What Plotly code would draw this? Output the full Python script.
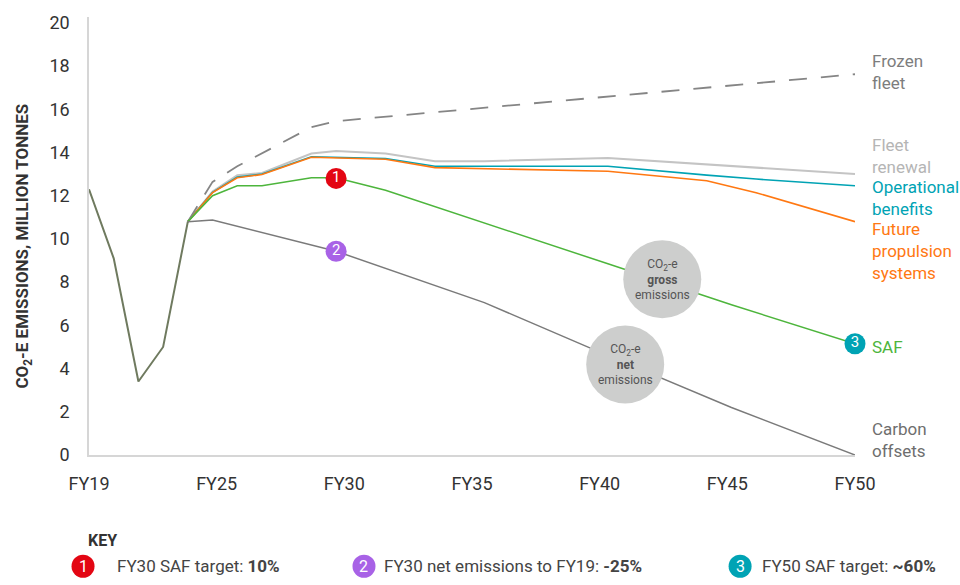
import plotly.graph_objects as go

# ---------------- data ----------------
hist_years = [2019, 2020, 2021, 2022, 2023]
hist_vals = [12.3, 9.1, 3.4, 5.0, 10.8]

frozen_years = [2023, 2024, 2025, 2026, 2027, 2028, 2029, 2050]
frozen_vals = [10.8, 12.64, 13.36, 13.96, 14.55, 15.17, 15.45, 17.62]

renewal_years = [2023, 2024, 2025, 2026, 2028, 2029, 2031, 2033, 2035, 2040, 2050]
renewal_vals = [10.8, 12.2, 12.95, 13.05, 13.95, 14.07, 13.95, 13.6, 13.6, 13.75, 13.0]

oper_years = [2023, 2024, 2025, 2026, 2028, 2031, 2033, 2040, 2044, 2046, 2050]
oper_vals = [10.8, 12.16, 12.86, 13.0, 13.8, 13.72, 13.36, 13.36, 12.95, 12.77, 12.46]

prop_years = [2023, 2024, 2025, 2026, 2028, 2031, 2033, 2040, 2044, 2046, 2050]
prop_vals = [10.8, 12.14, 12.83, 12.98, 13.78, 13.69, 13.3, 13.13, 12.69, 12.14, 10.8]

saf_years = [2023, 2024, 2025, 2026, 2028, 2029, 2031, 2035, 2040, 2045, 2050]
saf_vals = [10.8, 12.0, 12.46, 12.46, 12.83, 12.83, 12.25, 10.75, 8.85, 6.95, 5.15]

offset_years = [2023, 2024, 2029, 2035, 2040, 2045, 2050]
offset_vals = [10.8, 10.87, 9.43, 7.05, 4.6, 2.2, 0.0]

marker_years = [2029, 2029, 2050]
marker_vals = [12.8, 9.43, 5.15]
marker_nums = ["1", "2", "3"]

tick_labels = ["FY19", "FY25", "FY30", "FY35", "FY40", "FY45", "FY50"]
y_ticks = [0, 2, 4, 6, 8, 10, 12, 14, 16, 18, 20]

series_labels = ["Frozen<br>fleet", "Fleet<br>renewal", "Operational<br>benefits",
                 "Future<br>propulsion<br>systems", "SAF", "Carbon<br>offsets"]
label_y = [17.74, 13.82, 11.89, 9.45, 4.98, 0.69]

key_texts = ["FY30 SAF target: <b>10%</b>",
             "FY30 net emissions to FY19: <b>-25%</b>",
             "FY50 SAF target: <b>~60%</b>"]

# ---------------- styles ----------------
RED = "#e30613"
PURPLE = "#a862e6"
TEAL = "#00a3b4"
GREEN = "#4db53c"
ORANGE = "#ff7812"
GREY = "#7a7a7a"
LIGHT = "#c4c4c4"
FONT = "Roboto"

fig = go.Figure()

def line(xs, ys, color, width=1.5, dash=None):
    fig.add_trace(go.Scatter(x=xs, y=ys, mode="lines", cliponaxis=False,
                             line=dict(color=color, width=width, dash=dash),
                             hoverinfo="skip", showlegend=False))

line(renewal_years, renewal_vals, LIGHT, 2)
line(oper_years, oper_vals, TEAL, 1.6)
line(prop_years, prop_vals, ORANGE, 1.6)
line(frozen_years, frozen_vals, "#858585", 1.8, "18px,14px")
line(saf_years, saf_vals, GREEN, 1.5)
line(offset_years, offset_vals, GREY, 1.5)
line(hist_years, hist_vals, "#6f7a5f", 2)

# numbered markers
fig.add_trace(go.Scatter(x=marker_years, y=marker_vals, mode="markers+text",
                         text=marker_nums, textposition="middle center",
                         textfont=dict(color="white", size=15, family=FONT),
                         marker=dict(size=21, color=[RED, PURPLE, TEAL], line=dict(width=0)),
                         cliponaxis=False, hoverinfo="skip", showlegend=False))

# gross / net bubbles
bubbles = [(2042.2, 8.13, "CO<sub>2</sub>-e<br><b>gross</b><br>emissions"),
           (2040.7, 4.19, "CO<sub>2</sub>-e<br><b>net</b><br>emissions")]
shapes = []
annotations = []
for bx, by, btxt in bubbles:
    shapes.append(dict(type="circle", xref="x", yref="y", xsizemode="pixel", ysizemode="pixel",
                       xanchor=bx, yanchor=by, x0=-39, x1=39, y0=-39, y1=39,
                       fillcolor="#cdcecd", line=dict(width=0), layer="above"))
    annotations.append(dict(x=bx, y=by, xref="x", yref="y", text=btxt, showarrow=False,
                            xanchor="center", yanchor="middle",
                            font=dict(size=12, color="#555555", family=FONT),
                            align="center"))

# right-hand series labels
label_colors = ["#7d7d7d", "#b5b5b5", TEAL, ORANGE, GREEN, "#6e6e6e"]
for txt, ly, col in zip(series_labels, label_y, label_colors):
    annotations.append(dict(x=2050, y=ly, xref="x", yref="y", text=txt, showarrow=False,
                            xanchor="left", yanchor="middle", xshift=15, align="left",
                            font=dict(size=17, color=col, family=FONT)))

# y-axis title
annotations.append(dict(x=-0.0855, y=0.477, xref="paper", yref="paper",
                        xanchor="center", yanchor="middle",
                        text="<b>CO<sub>2</sub>-E EMISSIONS, MILLION TONNES</b>",
                        textangle=-90, showarrow=False,
                        font=dict(size=17, color="#333333", family=FONT)))

# KEY legend
annotations.append(dict(x=-0.004, y=-0.196, xref="paper", yref="paper", text="<b>KEY</b>",
                        showarrow=False, xanchor="left", yanchor="middle",
                        font=dict(size=16, color="#333333", family=FONT)))
key_cx = [-0.0078, 0.359, 0.85]
key_tx = [0.034, 0.3825, 0.876]
key_cols = [RED, PURPLE, TEAL]
for cx, tx, col, num, kt in zip(key_cx, key_tx, key_cols, marker_nums, key_texts):
    shapes.append(dict(type="circle", xref="paper", yref="paper", xsizemode="pixel",
                       ysizemode="pixel", xanchor=cx, yanchor=-0.254, x0=-11.5, x1=11.5,
                       y0=-11.5, y1=11.5, fillcolor=col, line=dict(width=0)))
    annotations.append(dict(x=cx, y=-0.254, xref="paper", yref="paper", text=num,
                            showarrow=False, xanchor="center", yanchor="middle",
                            font=dict(size=16, color="white", family=FONT)))
    annotations.append(dict(x=tx, y=-0.254, xref="paper", yref="paper", text=kt,
                            showarrow=False, xanchor="left", yanchor="middle",
                            font=dict(size=17, color="#444444", family=FONT)))

tick_pos = [2019 + i * 31 / 6 for i in range(7)]

fig.update_layout(
    width=960, height=585,
    margin=dict(l=89, r=105, t=15, b=130),
    paper_bgcolor="white", plot_bgcolor="white",
    shapes=shapes, annotations=annotations,
    xaxis=dict(range=[2019, 2050], tickvals=tick_pos, ticktext=tick_labels,
               showgrid=False, zeroline=False, showline=True, linecolor="#d6d6d6",
               linewidth=1.5, ticks="", ticklabelstandoff=12,
               tickfont=dict(size=18, color="#333333", family=FONT)),
    yaxis=dict(range=[0, 20.27], tickvals=y_ticks, showgrid=False, zeroline=False,
               showline=True, linecolor="#d6d6d6", linewidth=1.5, ticks="",
               ticklabelstandoff=14,
               tickfont=dict(size=18, color="#333333", family=FONT)),
)

fig.write_html("out.html")
